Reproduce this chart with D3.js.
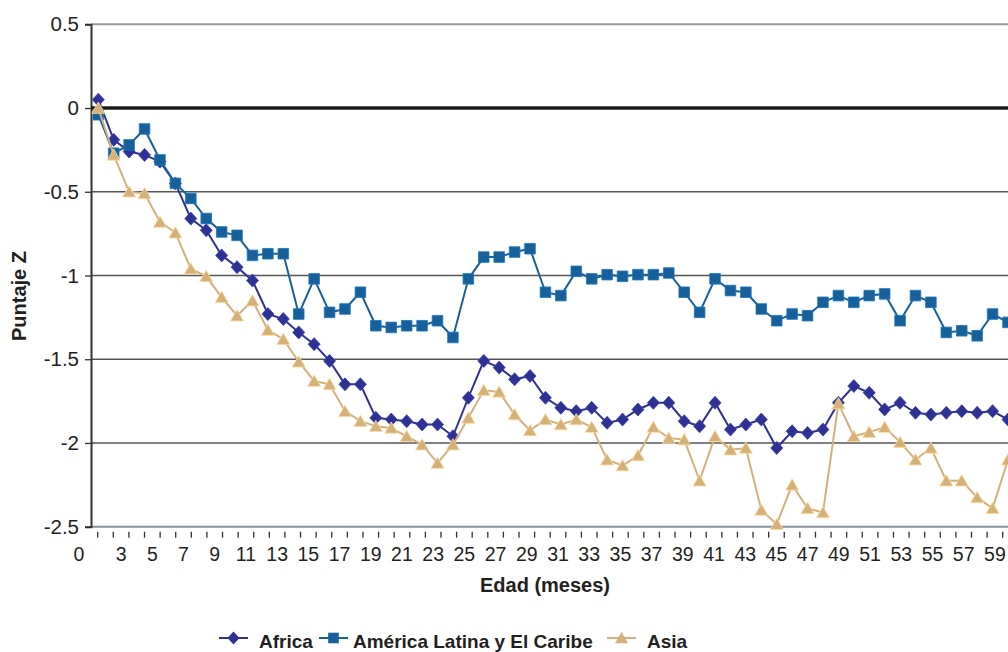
<!DOCTYPE html>
<html>
<head>
<meta charset="utf-8">
<script src="https://cdn.jsdelivr.net/npm/d3@7"></script>
<style>
body { margin: 0; background: #fff; overflow: hidden; }
svg { display: block; font-family: "Liberation Sans", Arial, sans-serif; }
</style>
</head>
<body>
<div id="chart"></div>
<script>
// edad en meses (categorias)
var months = [1, 2, 3, 4, 5, 6, 7, 8, 9, 10, 11, 12, 13, 14, 15, 16, 17, 18, 19, 20,
	21, 22, 23, 24, 25, 26, 27, 28, 29, 30, 31, 32, 33, 34, 35, 36, 37, 38, 39, 40,
	41, 42, 43, 44, 45, 46, 47, 48, 49, 50, 51, 52, 53, 54, 55, 56, 57, 58, 59, 60];

var africa = [0.05, -0.19, -0.26, -0.28, -0.32, -0.45, -0.66, -0.73, -0.88, -0.95,
	-1.03, -1.23, -1.26, -1.34, -1.41, -1.51, -1.65, -1.65, -1.85, -1.86,
	-1.87, -1.89, -1.89, -1.96, -1.73, -1.51, -1.55, -1.62, -1.60, -1.73,
	-1.79, -1.81, -1.79, -1.88, -1.86, -1.80, -1.76, -1.76, -1.87, -1.90,
	-1.76, -1.92, -1.89, -1.86, -2.03, -1.93, -1.94, -1.92, -1.76, -1.66,
	-1.70, -1.80, -1.76, -1.82, -1.83, -1.82, -1.81, -1.82, -1.81, -1.86];

var latam = [-0.04, -0.27, -0.22, -0.125, -0.31, -0.45, -0.54, -0.66, -0.74, -0.76,
	-0.88, -0.87, -0.87, -1.23, -1.02, -1.22, -1.20, -1.10, -1.30, -1.31,
	-1.30, -1.30, -1.27, -1.37, -1.02, -0.89, -0.89, -0.86, -0.84, -1.10,
	-1.12, -0.975, -1.02, -0.995, -1.005, -0.995, -0.995, -0.985, -1.10, -1.22,
	-1.02, -1.09, -1.10, -1.20, -1.27, -1.23, -1.24, -1.16, -1.12, -1.16,
	-1.12, -1.11, -1.27, -1.12, -1.16, -1.34, -1.33, -1.36, -1.23, -1.28];

var asia = [0.0, -0.28, -0.50, -0.51, -0.68, -0.745, -0.96, -1.005, -1.13, -1.24,
	-1.15, -1.325, -1.38, -1.515, -1.63, -1.65, -1.81, -1.87, -1.90, -1.91,
	-1.96, -2.01, -2.12, -2.01, -1.85, -1.685, -1.695, -1.83, -1.925, -1.86,
	-1.89, -1.86, -1.905, -2.10, -2.135, -2.075, -1.905, -1.97, -1.98, -2.225,
	-1.96, -2.04, -2.03, -2.40, -2.485, -2.25, -2.39, -2.415, -1.765, -1.96,
	-1.935, -1.905, -1.995, -2.10, -2.03, -2.225, -2.225, -2.325, -2.39, -2.10];

var seriesNames = ["Africa", "América Latina y El Caribe", "Asia"];
var yTicks = [0.5, 0, -0.5, -1, -1.5, -2, -2.5];
var xTickLabels = [0, 3, 5, 7, 9, 11, 13, 15, 17, 19, 21, 23, 25, 27, 29, 31, 33, 35, 37, 39,
	41, 43, 45, 47, 49, 51, 53, 55, 57, 59];

var width = 1008,
height = 652,
colors = ["#2e3192", "#17609a", "#d4b07b"],
shapes = ["diamond", "square", "triangle"];

var svg = d3.select("#chart").append("svg")
	.attr("width", width)
	.attr("height", height);

var y = d3.scaleLinear()
	.domain([-2.5, 0.5])
	.range([526.7, 24.3]);

// points sit on their own category spacing
var x = d3.scaleLinear()
	.domain([1, 60])
	.range([98.3, 1008]);

// axis categories: tick marks between labels
var xCat = d3.scaleLinear()
	.domain([1.5, 59.5])
	.range([97.7, 1002.7]);

var plotLeft = 91, plotRight = width;

// gridlines
svg.append("g")
	.selectAll("line")
	.data(yTicks.filter(d => d !== 0 && d !== -2.5))
	.join("line")
	.attr("x1", plotLeft)
	.attr("x2", plotRight)
	.attr("y1", d => y(d))
	.attr("y2", d => y(d))
	.attr("stroke", d => d === 0.5 ? "#9a9a9a" : "#555")
	.attr("stroke-width", d => d === 0.5 ? 2 : 1.4);

// x axis line
svg.append("line")
	.attr("x1", plotLeft).attr("x2", plotRight)
	.attr("y1", y(-2.5)).attr("y2", y(-2.5))
	.attr("stroke", "#8a939c")
	.attr("stroke-width", 2);

// y axis
var yAxis = g => g
	.attr("transform", `translate(${plotLeft},0)`)
	.call(d3.axisLeft(y).tickValues(yTicks).tickSize(6).tickPadding(6).tickFormat(d => String(d)))
	.call(g => g.select(".domain").attr("stroke", "#333").attr("stroke-width", 2))
	.call(g => g.selectAll(".tick line").attr("stroke", "#333").attr("stroke-width", 1.3))
	.call(g => g.selectAll(".tick text")
		.attr("fill", "#231f20")
		.attr("font-size", 20.5)
		.attr("font-family", "Liberation Sans, Arial, sans-serif"));

svg.append("g").call(yAxis);

// zero line on top of the axis
svg.append("line")
	.attr("x1", plotLeft).attr("x2", plotRight)
	.attr("y1", y(0)).attr("y2", y(0))
	.attr("stroke", "#1d1d1d")
	.attr("stroke-width", 3.6);

// x ticks and labels
var xTickVals = d3.range(1.5, 60, 1);
svg.append("g")
	.selectAll("line")
	.data(xTickVals)
	.join("line")
	.attr("x1", d => xCat(d)).attr("x2", d => xCat(d))
	.attr("y1", y(-2.5) + 5).attr("y2", y(-2.5) + 11)
	.attr("stroke", "#333")
	.attr("stroke-width", 1.3);

svg.append("g")
	.selectAll("text")
	.data(xTickLabels)
	.join("text")
	.attr("x", d => d === 0 ? xCat(0.3) : xCat(d))
	.attr("y", 560.5)
	.attr("text-anchor", "middle")
	.attr("font-size", 19.5)
	.attr("fill", "#231f20")
	.text(d => d);

// axis titles
svg.append("text")
	.attr("x", 545)
	.attr("y", 591.5)
	.attr("text-anchor", "middle")
	.attr("font-size", 20)
	.attr("font-weight", "bold")
	.attr("fill", "#231f20")
	.text("Edad (meses)");

svg.append("text")
	.attr("transform", "translate(25.5,296) rotate(-90)")
	.attr("text-anchor", "middle")
	.attr("font-size", 20)
	.attr("font-weight", "bold")
	.attr("fill", "#231f20")
	.text("Puntaje Z");

function markerPath(shape) {
	if (shape === "diamond") return "M0,-6.5L6,0L0,6.5L-6,0Z";
	if (shape === "square") return "M-5.3,-5.3L5.3,-5.3L5.3,5.3L-5.3,5.3Z";
	return "M0,-6L6.5,5.3L-6.5,5.3Z";
}

var allSeries = [africa, latam, asia];

allSeries.forEach(function(values, i) {
	var pts = months.map((m, j) => ({ m: m, v: values[j] }));

	var line = d3.line()
		.x(d => x(d.m))
		.y(d => y(d.v));

	var g = svg.append("g").attr("class", "series-" + i);

	g.append("path")
		.datum(pts)
		.attr("fill", "none")
		.attr("stroke", colors[i])
		.attr("stroke-width", 2)
		.attr("d", line);

	g.selectAll("path.mk")
		.data(pts)
		.join("path")
		.attr("class", "mk")
		.attr("transform", d => `translate(${x(d.m)},${y(d.v)})`)
		.attr("d", markerPath(shapes[i]))
		.attr("fill", colors[i])
		.attr("stroke", d3.color(colors[i]).brighter(0.6))
		.attr("stroke-width", 0.8);
});

// legend
var legendX = [219, 319, 607];
var legend = svg.append("g")
	.selectAll("g")
	.data(seriesNames)
	.join("g")
	.attr("transform", (d, i) => `translate(${legendX[i]},638)`);

legend.append("line")
	.attr("x1", 0).attr("x2", 29)
	.attr("stroke", (d, i) => colors[i])
	.attr("stroke-width", 2);

legend.append("path")
	.attr("transform", "translate(14.5,0)")
	.attr("d", (d, i) => markerPath(shapes[i]))
	.attr("fill", (d, i) => colors[i]);

legend.append("text")
	.attr("x", (d, i) => i === 1 ? 34 : 40)
	.attr("y", 10)
	.attr("font-size", 19)
	.attr("font-weight", "bold")
	.attr("fill", "#231f20")
	.text(d => d);
</script>
</body>
</html>
